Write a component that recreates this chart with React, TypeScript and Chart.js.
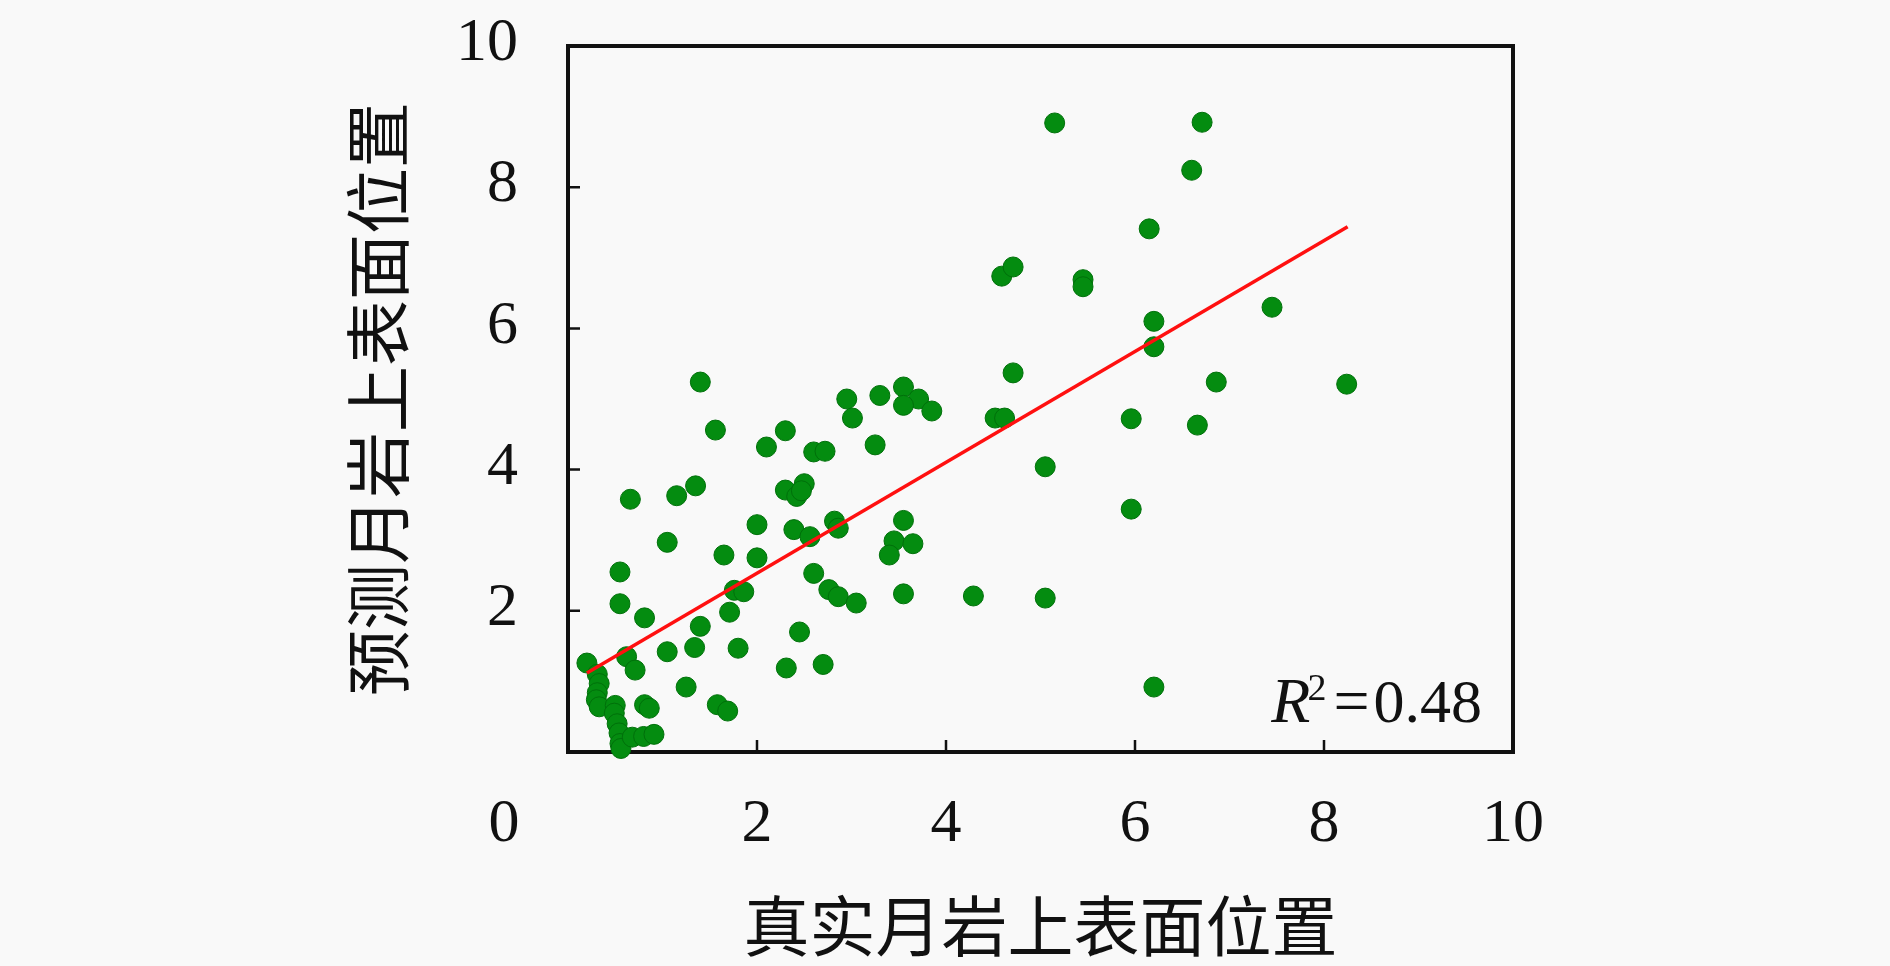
import { useEffect, useRef } from "react";
import { Chart, registerables } from "chart.js";

Chart.register(...registerables);

const trueX = [
  5.15, 6.71, 6.6, 6.15, 4.59, 4.71, 5.45, 5.45, 7.45, 6.2, 6.2, 4.71, 6.86, 8.24, 4.52, 4.62,
  5.96, 6.66, 5.05, 5.96, 5.05, 4.29, 6.2, 1.4, 1.56, 3.55, 3.3, 2.95, 3.71, 3.55, 3.85, 3.01,
  2.3, 2.1, 3.25, 2.6, 2.72, 1.35, 1.15, 0.66, 2.3, 2.42, 2.5, 2.47, 3.55, 2.0, 2.82, 2.86,
  2.39, 2.56, 1.05, 3.45, 3.65, 3.4, 1.65, 2.0, 0.55, 2.6, 2.76, 1.76, 1.86, 2.86, 3.55, 3.05,
  0.55, 1.71, 0.81, 1.4, 2.45, 1.8, 1.34, 1.05, 0.62, 0.71, 2.31, 2.7, 0.2, 1.25, 1.58, 1.69,
  0.81, 0.86, 0.31, 0.33, 0.31, 0.3, 0.33, 0.5, 0.49, 0.52, 0.54, 0.55, 0.56, 0.68, 0.8, 0.91,
];
const predY = [
  8.91, 8.92, 8.24, 7.41, 6.74, 6.87, 6.69, 6.59, 6.3, 6.1, 5.74, 5.37, 5.24, 5.21, 4.73, 4.73,
  4.72, 4.63, 4.04, 3.44, 2.18, 2.21, 0.92, 5.24, 4.56, 5.17, 5.05, 5.0, 5.0, 4.91, 4.83, 4.73,
  4.55, 4.32, 4.35, 4.25, 4.26, 3.77, 3.63, 3.58, 3.71, 3.62, 3.8, 3.7, 3.28, 3.22, 3.27, 3.17,
  3.15, 3.05, 2.97, 2.99, 2.95, 2.79, 2.79, 2.75, 2.55, 2.53, 2.3, 2.29, 2.27, 2.2, 2.24, 2.11,
  2.1, 1.98, 1.9, 1.78, 1.7, 1.47, 1.48, 1.42, 1.35, 1.16, 1.19, 1.24, 1.26, 0.92, 0.67, 0.58,
  0.67, 0.62, 1.1, 0.97, 0.84, 0.74, 0.64, 0.66, 0.55, 0.4, 0.27, 0.12, 0.05, 0.21, 0.22, 0.25,
];

// fitted line end points
const fitX = [0.2, 8.25];
const fitY = [1.12, 7.44];

const xTicks = [0, 2, 4, 6, 8, 10];
const yTicks = [2, 4, 6, 8, 10];
const xTitle = "真实月岩上表面位置";
const yTitle = "预测月岩上表面位置";
const r2Value = "0.48";

const numFont = "62px 'Liberation Serif', 'DejaVu Serif', serif";
const cjkFont = "66px 'Noto Sans CJK SC', sans-serif";

const framePlugin = {
  id: "frame",
  beforeDatasetsDraw(chart: Chart) {
    const { ctx, chartArea } = chart;
    const x = chart.scales.x;
    const y = chart.scales.y;
    ctx.save();
    ctx.strokeStyle = "#111";
    ctx.lineWidth = 4;
    ctx.strokeRect(chartArea.left, chartArea.top, chartArea.right - chartArea.left, chartArea.bottom - chartArea.top);

    // inward tick marks
    ctx.lineWidth = 2.5;
    ctx.beginPath();
    xTicks.slice(1, -1).forEach((t) => {
      const px = x.getPixelForValue(t);
      ctx.moveTo(px, chartArea.bottom);
      ctx.lineTo(px, chartArea.bottom - 12);
    });
    yTicks.slice(0, -1).forEach((t) => {
      const py = y.getPixelForValue(t);
      ctx.moveTo(chartArea.left, py);
      ctx.lineTo(chartArea.left + 12, py);
    });
    ctx.stroke();
    ctx.restore();
  },
  afterDraw(chart: Chart) {
    const { ctx, chartArea } = chart;
    const x = chart.scales.x;
    const y = chart.scales.y;
    ctx.save();
    ctx.fillStyle = "#111";
    ctx.font = numFont;
    ctx.textBaseline = "middle";

    // tick labels
    ctx.textAlign = "center";
    xTicks.forEach((t) => {
      // the origin label sits left, under the y labels
      const px = t === 0 ? chartArea.left - 64 : x.getPixelForValue(t);
      ctx.fillText(String(t), px, chartArea.bottom + 73);
    });
    ctx.textAlign = "right";
    yTicks.forEach((t) => {
      ctx.fillText(String(t), chartArea.left - 50, y.getPixelForValue(t) - 2);
    });

    // axis titles
    ctx.font = cjkFont;
    ctx.textAlign = "center";
    ctx.fillText(xTitle, (chartArea.left + chartArea.right) / 2, chartArea.bottom + 174);
    ctx.save();
    ctx.translate(chartArea.left - 190, (chartArea.top + chartArea.bottom) / 2);
    ctx.rotate(-Math.PI / 2);
    ctx.fillText(yTitle, 0, 0);
    ctx.restore();

    // R^2 annotation
    ctx.textBaseline = "alphabetic";
    ctx.textAlign = "left";
    const base = chartArea.bottom - 30;
    const rFont = "italic 64px 'Liberation Serif', serif";
    const supFont = "38px 'Liberation Serif', serif";
    ctx.font = rFont;
    const wR = ctx.measureText("R").width;
    ctx.font = supFont;
    const wS = ctx.measureText("2").width;
    ctx.font = "64px 'Liberation Serif', serif";
    const wEq = ctx.measureText("=").width;
    ctx.font = numFont;
    const wV = ctx.measureText(r2Value).width;
    const total = wR + wS + 4 + wEq + 4 + wV;
    let cx = chartArea.right - 31 - total;
    ctx.font = rFont;
    ctx.fillText("R", cx, base);
    cx += wR;
    ctx.font = supFont;
    ctx.fillText("2", cx - 3, base - 22);
    cx += wS + 4;
    ctx.font = "64px 'Liberation Serif', serif";
    ctx.fillText("=", cx, base);
    cx += wEq + 4;
    ctx.font = numFont;
    ctx.fillText(r2Value, cx, base);
    ctx.restore();
  },
};

export default function App() {
  const canvasRef = useRef<HTMLCanvasElement>(null);

  useEffect(() => {
    document.body.style.margin = "0";
    document.body.style.background = "#f9f9f9";
    if (!canvasRef.current) return;

    const chart = new Chart(canvasRef.current, {
      type: "scatter",
      data: {
        datasets: [
          {
            type: "line",
            data: fitX.map((v, i) => ({ x: v, y: fitY[i] })),
            borderColor: "#ff1010",
            borderWidth: 3.5,
            pointRadius: 0,
            fill: false,
            order: 0,
          },
          {
            type: "scatter",
            data: trueX.map((v, i) => ({ x: v, y: predY[i] })),
            backgroundColor: "rgb(4,140,16)",
            borderColor: "rgb(0,112,10)",
            borderWidth: 1,
            pointRadius: 10,
            clip: false,
            order: 1,
          },
        ],
      },
      options: {
        responsive: true,
        maintainAspectRatio: false,
        animation: false,
        layout: { padding: { left: 568, right: 377, top: 46, bottom: 214 } },
        scales: {
          x: { type: "linear", min: 0, max: 10, display: false },
          y: { type: "linear", min: 0, max: 10, display: false },
        },
        plugins: {
          legend: { display: false },
          tooltip: { enabled: false },
        },
      },
      plugins: [framePlugin],
    });

    return () => {
      chart.destroy();
    };
  }, []);

  return (
    <div style={{ position: "relative", width: "1890px", height: "966px" }}>
      <canvas ref={canvasRef}></canvas>
    </div>
  );
}
